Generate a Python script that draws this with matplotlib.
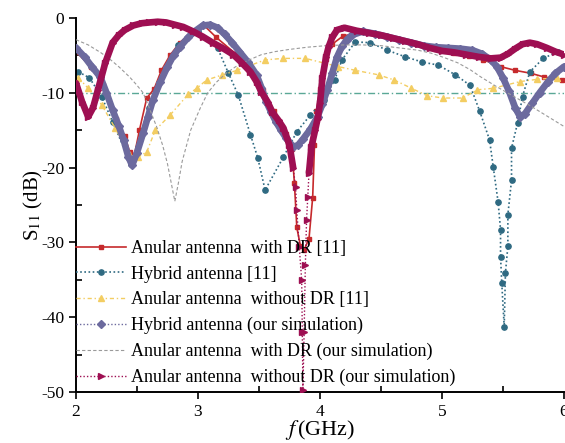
import numpy as np
import matplotlib
matplotlib.use('Agg')
import matplotlib.pyplot as plt

plt.rcParams['font.family'] = ['Liberation Serif', 'DejaVu Serif']
plt.rcParams['mathtext.fontset'] = 'stix'
plt.rcParams['axes.unicode_minus'] = False

# ---------------- data ----------------
# Anular antenna with DR [11]
f_red = [2.00, 2.12, 2.22, 2.33, 2.40, 2.44, 2.47, 2.52, 2.58, 2.64, 2.70, 2.77, 2.85,
         2.95, 3.05, 3.15, 3.31, 3.43, 3.53, 3.62, 3.72, 3.77, 3.79, 3.81, 3.84, 3.87,
         3.91, 3.94, 3.955, 3.97, 4.00, 4.05, 4.10, 4.19, 4.35, 4.50, 4.65, 4.80, 4.95,
         5.10, 5.22, 5.34, 5.48, 5.60, 5.73, 5.84, 5.98]
s_red = [-4.5, -6.5, -9.0, -13.5, -15.8, -17.9, -19.0, -15.0, -10.7, -9.5, -7.0, -5.0, -3.3,
         -1.9, -1.0, -2.6, -4.8, -6.8, -9.6, -12.4, -15.5, -17.5, -22.0, -28.0, -30.5, -31.0,
         -29.5, -24.0, -17.0, -12.5, -9.5, -5.5, -3.5, -2.4, -1.9, -2.3, -2.9, -3.5, -4.2,
         -4.7, -5.1, -5.6, -6.5, -7.0, -7.4, -7.9, -8.3]

# Hybrid antenna [11]
f_teal = [2.02, 2.11, 2.21, 2.30, 2.45, 2.60, 2.84, 3.00, 3.16, 3.25, 3.33, 3.43, 3.49,
          3.55, 3.70, 3.81, 3.92, 4.03, 4.12, 4.18, 4.29, 4.41, 4.55, 4.70, 4.84, 4.97,
          5.11, 5.23, 5.31, 5.39, 5.42, 5.46, 5.48, 5.48, 5.49, 5.51, 5.52, 5.54, 5.54,
          5.57, 5.57, 5.62, 5.66, 5.72, 5.83, 5.95]
s_teal = [-7.2, -8.0, -10.5, -13.9, -19.5, -12.0, -3.6, -1.8, -4.0, -7.4, -10.3, -15.6, -18.7,
          -23.0, -18.6, -15.2, -13.0, -11.0, -8.3, -5.6, -3.2, -3.3, -4.3, -5.2, -5.9, -6.3,
          -7.6, -9.0, -12.5, -16.3, -19.9, -24.6, -28.3, -31.9, -35.4, -41.3, -34.1, -30.5, -26.3,
          -21.7, -17.4, -14.0, -10.5, -7.2, -5.4, -4.5]

# Anular antenna without DR [11]
f_gold = [2.02, 2.10, 2.21, 2.32, 2.43, 2.51, 2.58, 2.65, 2.77, 2.92, 2.99, 3.07, 3.20,
          3.32, 3.55, 3.70, 3.88, 4.15, 4.29, 4.48, 4.61, 4.75, 4.88, 5.01, 5.17, 5.29,
          5.42, 5.64, 5.78, 5.94]
s_gold = [-8.0, -9.4, -11.6, -14.7, -17.9, -18.6, -17.9, -15.0, -13.0, -10.2, -9.4, -8.3, -7.6,
          -7.0, -5.6, -5.4, -5.4, -6.5, -7.0, -7.6, -8.3, -9.4, -10.4, -10.7, -10.7, -9.6,
          -9.4, -8.5, -8.2, -8.0]

# Hybrid antenna (our simulation)
f_purp = [2.00, 2.07, 2.13, 2.20, 2.25, 2.30, 2.35, 2.39, 2.43, 2.46, 2.50, 2.55, 2.59,
          2.63, 2.69, 2.75, 2.80, 2.85, 2.92, 2.98, 3.04, 3.10, 3.16, 3.22, 3.28, 3.34,
          3.41, 3.48, 3.52, 3.56, 3.60, 3.64, 3.68, 3.72, 3.78, 3.82, 3.86, 3.92, 3.98,
          4.02, 4.06, 4.10, 4.14, 4.18, 4.22, 4.26, 4.35, 4.45, 4.55, 4.65, 4.75, 4.85,
          4.95, 5.05, 5.15, 5.25, 5.33, 5.40, 5.45, 5.50, 5.55, 5.60, 5.64, 5.68, 5.74,
          5.80, 5.87, 5.93, 6.00]
s_purp = [-4.0, -5.2, -6.5, -7.9, -10.0, -12.3, -14.4, -16.3, -18.6, -19.7, -18.0, -15.4, -13.2,
          -11.0, -8.6, -6.5, -5.0, -3.9, -2.6, -1.7, -1.0, -0.9, -1.3, -2.2, -3.3, -4.5,
          -5.9, -7.6, -9.3, -11.2, -12.6, -13.9, -15.0, -16.0, -17.2, -17.0, -16.2, -14.9, -13.2,
          -11.5, -9.6, -7.4, -5.2, -3.8, -2.9, -2.3, -1.8, -2.1, -2.5, -2.9, -3.3, -3.7,
          -3.9, -4.0, -4.1, -4.3, -4.8, -5.6, -6.5, -8.0, -9.8, -12.0, -13.2, -12.8, -11.4,
          -10.0, -8.5, -7.4, -6.5]

# Anular antenna with DR (our simulation)
f_grey = [2.00, 2.10, 2.20, 2.27, 2.35, 2.44, 2.50, 2.55, 2.60, 2.66, 2.71, 2.75, 2.78,
          2.81, 2.84, 2.87, 2.94, 3.02, 3.08, 3.15, 3.23, 3.31, 3.42, 3.52, 3.63, 3.75,
          3.90, 4.05, 4.20, 4.35, 4.50, 4.65, 4.80, 4.91, 5.02, 5.13, 5.23, 5.32, 5.45,
          5.59, 5.73, 5.87, 6.00]
s_grey = [-2.9, -3.6, -4.6, -5.4, -6.5, -7.9, -9.0, -10.0, -12.0, -14.5, -17.0, -19.5, -22.0,
          -24.5, -22.0, -19.2, -15.0, -12.0, -10.0, -8.6, -7.4, -6.5, -5.6, -4.9, -4.5, -4.2,
          -3.9, -3.7, -3.6, -3.6, -3.7, -4.0, -4.3, -4.7, -5.3, -6.0, -6.9, -7.9, -9.2,
          -10.5, -11.8, -13.2, -14.5]

# Anular antenna without DR (our simulation)
f_mar = [2.00, 2.05, 2.10, 2.14, 2.18, 2.24, 2.30, 2.35, 2.40, 2.47, 2.54, 2.60, 2.67,
         2.74, 2.81, 2.88, 2.96, 3.04, 3.12, 3.20, 3.29, 3.36, 3.43, 3.48, 3.52, 3.57,
         3.61, 3.66, 3.70, 3.75, 3.78, 3.80, 3.81, 3.83, 3.85, 3.855, 3.86, 3.87, 3.88,
         3.89, 3.90, 3.91, 3.93, 3.96, 3.98, 4.00, 4.02, 4.05, 4.07, 4.10, 4.14, 4.20,
         4.30, 4.40, 4.50, 4.60, 4.70, 4.80, 4.90, 5.00, 5.10, 5.20, 5.30, 5.40, 5.48,
         5.54, 5.60, 5.66, 5.72, 5.78, 5.86, 5.93, 6.00]
s_mar = [-8.7, -11.2, -13.2, -12.0, -9.6, -6.0, -3.3, -2.3, -1.6, -1.0, -0.7, -0.6, -0.5,
         -0.6, -0.9, -1.2, -1.8, -2.5, -3.3, -4.0, -4.9, -6.0, -7.2, -8.5, -9.9, -11.2,
         -12.6, -13.7, -14.7, -17.0, -20.0, -22.6, -25.7, -30.6, -35.0, -42.0, -49.7, -42.0, -33.0,
         -27.0, -23.9, -20.7, -17.2, -15.0, -13.5, -11.4, -8.0, -5.2, -3.9, -2.6, -1.6, -1.3,
         -1.7, -2.0, -2.3, -2.7, -3.1, -3.5, -4.0, -4.4, -4.6, -4.9, -5.2, -5.4, -5.3,
         -4.8, -4.1, -3.5, -3.3, -3.5, -4.0, -4.5, -4.9]

ref_level = -10

labels = ['Anular antenna  with DR [11]',
          'Hybrid antenna [11]',
          'Anular antenna  without DR [11]',
          'Hybrid antenna (our simulation)',
          'Anular antenna  with DR (our simulation)',
          'Anular antenna  without DR (our simulation)']

c_red = '#c62a2c'
c_teal = '#2f6a82'
c_gold = '#f3cd62'
c_purp = '#6c6a9e'
c_grey = '#9a9a9a'
c_mar = '#9e0f52'
c_green = '#5aa896'

fig = plt.figure(figsize=(5.65, 4.43), dpi=100)
ax = fig.add_axes([0.1345, 0.1151, 0.8637, 0.8443])

ax.axhline(ref_level, color=c_green, linestyle=(0, (5, 2, 1, 2)), linewidth=1.0, zorder=1)

ax.plot(f_red, s_red, color=c_red, linestyle='-', linewidth=1.2,
        marker='s', markersize=2.5, label=labels[0], zorder=2)
ax.plot(f_teal, s_teal, color=c_teal, linestyle=(0, (1, 1.5)), linewidth=1.2,
        marker='o', markersize=3.8, label=labels[1], zorder=2)
ax.plot(f_gold, s_gold, color=c_gold, linestyle=(0, (3, 2, 1, 2)), linewidth=1.0,
        marker='^', markersize=4, label=labels[2], zorder=2)

# thick simulated curves (dense markers in the original); the deep notch stays thin
ax.plot(f_purp, s_purp, color=c_purp, linewidth=4.8, solid_capstyle='round', zorder=3)
ax.plot(f_purp, s_purp, color=c_purp, linestyle=(0, (1, 1.5)), linewidth=1.0,
        marker='D', markersize=4, label=labels[3], zorder=3)

ax.plot(f_grey, s_grey, color=c_grey, linestyle=(0, (3, 2)), linewidth=0.8,
        label=labels[4], zorder=3)

s_mar_arr = np.array(s_mar)
s_mar_thick = np.where(s_mar_arr < -21, np.nan, s_mar_arr)
ax.plot(f_mar, s_mar_thick, color=c_mar, linewidth=4.8, solid_capstyle='round', zorder=4)
ax.plot(f_mar, s_mar, color=c_mar, linestyle=(0, (1, 1.5)), linewidth=1.0,
        marker='>', markersize=5, label=labels[5], zorder=4)

ax.set_xlim(2, 6)
ax.set_ylim(-50, 0)
ax.set_xticks([2, 3, 4, 5, 6])
ax.set_xticks([2.5, 3.5, 4.5, 5.5], minor=True)
ax.set_yticks([-50, -40, -30, -20, -10, 0])
ax.set_yticks([-45, -35, -25, -15, -5], minor=True)
ax.tick_params(which='major', direction='out', length=5, width=1.2, labelsize=12.5)
ax.tick_params(which='minor', direction='in', length=4, width=1.2)
for side in ['top', 'right']:
    ax.spines[side].set_visible(False)
for side in ['left', 'bottom']:
    ax.spines[side].set_linewidth(1.4)

ax.set_ylabel('S$_{11}$ (dB)', fontsize=15, labelpad=-3)
ax.set_xlabel('$f\\,$(GHz)', fontsize=16, labelpad=-1)

ax.legend(loc='lower left', bbox_to_anchor=(0.0, 0.015), frameon=False,
          fontsize=13, numpoints=1, handlelength=2.75, handletextpad=0.3,
          labelspacing=0.48, borderaxespad=0, borderpad=0)

fig.savefig('out.png', dpi=100)
